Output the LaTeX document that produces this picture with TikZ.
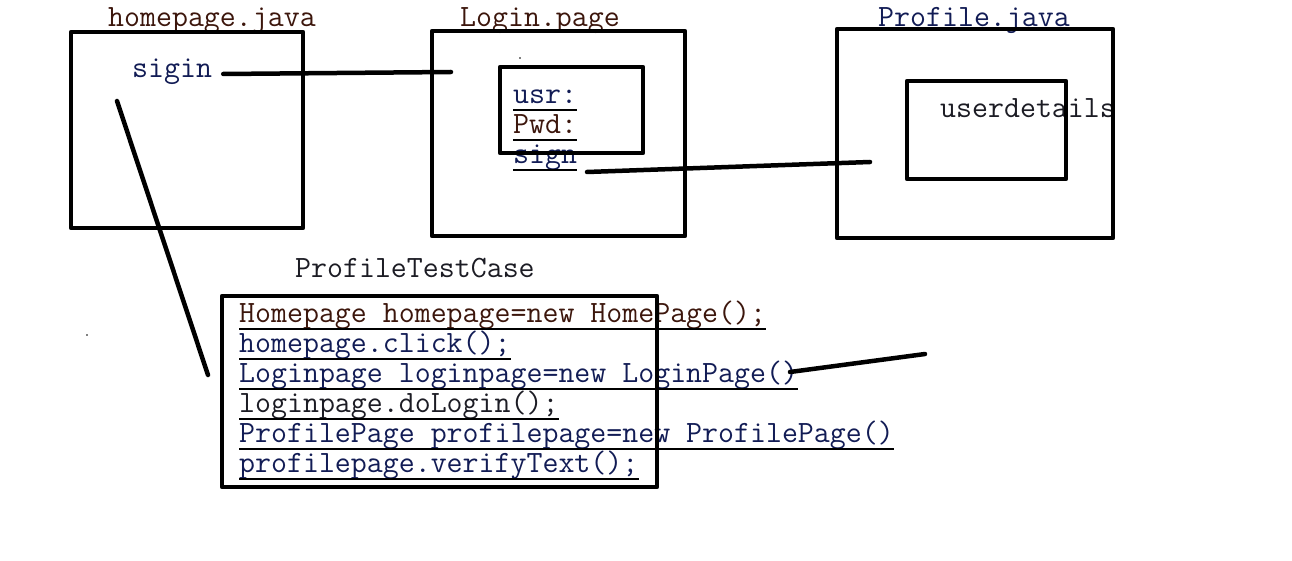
\documentclass[tikz,border=0pt]{standalone}
\usepackage{fontspec}
\usetikzlibrary{positioning,calc}
\definecolor{inkred}{RGB}{60,22,12}
\definecolor{inkblue}{RGB}{18,28,85}
\definecolor{inkdark}{RGB}{28,28,36}
\tikzset{
  txt/.style={font=\ttfamily\fontsize{31}{32}\selectfont, inner sep=0pt, anchor=base west},
  page/.style={draw, line width=4.5pt, inner sep=0pt, outer sep=0pt},
  link/.style={line width=4.5pt, line cap=round},
  uline/.style={line width=1.2pt}
}
\begin{document}
\begin{tikzpicture}[x=1pt,y=-1pt,line join=round]
\useasboundingbox (0,0) rectangle (1292,561);
%Titles of the pages
\node[txt,inkred] (hometitle) at (108,27) {homepage.java};
\node[txt,inkred] (logintitle) at (460,27) {Login.page};
\node[txt,inkblue] (proftitle) at (878,27) {Profile.java};
\node[txt,inkdark] (testtitle) at (295,277) {ProfileTestCase};
%Texts inside the pages
\node[txt,inkblue] (sigin) at (132,78) {sigin};
\node[txt,inkdark] (details) at (940,118) {userdetails};
\foreach \n/\t/\c/\y in {usr/usr:/inkblue/104, pwd/Pwd:/inkred/134, sgn/sign/inkblue/164}
  {\node[txt,\c] (\n) at (513,\y) {\t};
   \draw[uline] ($(\n.base west)+(0,6)$)--($(\n.base east)+(0,6)$);}
%Lines of the test case
\foreach \i/\t/\c in {1/{Homepage homepage=new HomePage();}/inkred,
  2/{homepage.click();}/inkblue,
  3/{Loginpage loginpage=new LoginPage()}/inkblue,
  4/{loginpage.doLogin();}/inkdark,
  5/{ProfilePage profilepage=new ProfilePage()}/inkblue,
  6/{profilepage.verifyText();}/inkblue}
  {\node[txt,\c] (c\i) at (239,292.5+30*\i) {\t};
   \draw[uline] ($(c\i.base west)+(0,6.5)$)--($(c\i.base east)+(0,6.5)$);}
%Boxes
\node[page, minimum width=232, minimum height=196] (homebox) at (187,130) {};
\node[page, minimum width=253, minimum height=205] (loginbox) at (558.5,133.5) {};
\node[page, minimum width=143, minimum height=86] (formbox) at (571.5,110) {};
\node[page, minimum width=276, minimum height=209] (profbox) at (975,133.5) {};
\node[page, minimum width=159, minimum height=98] (detailbox) at (986.5,130) {};
\node[page, minimum width=435, minimum height=191] (testbox) at (439.5,391.5) {};
%Connecting lines
\coordinate (signinend) at (451,72);
\coordinate (signstart) at (587,172);
\coordinate (profend) at (870,162);
\coordinate (homestart) at (117,101);
\coordinate (testend) at (208,375);
\coordinate (loginstart) at (790,372);
\coordinate (loginend) at (925,354);
\draw[link] ([xshift=11pt,yshift=4pt]sigin.base east)--(signinend);
\draw[link] (signstart)--(profend);
\draw[link] (homestart)--(testend);
\draw[link] (loginstart)--(loginend);
\fill (520,58) circle (0.8);
\fill (87,335) circle (0.8);
\end{tikzpicture}
\end{document}
